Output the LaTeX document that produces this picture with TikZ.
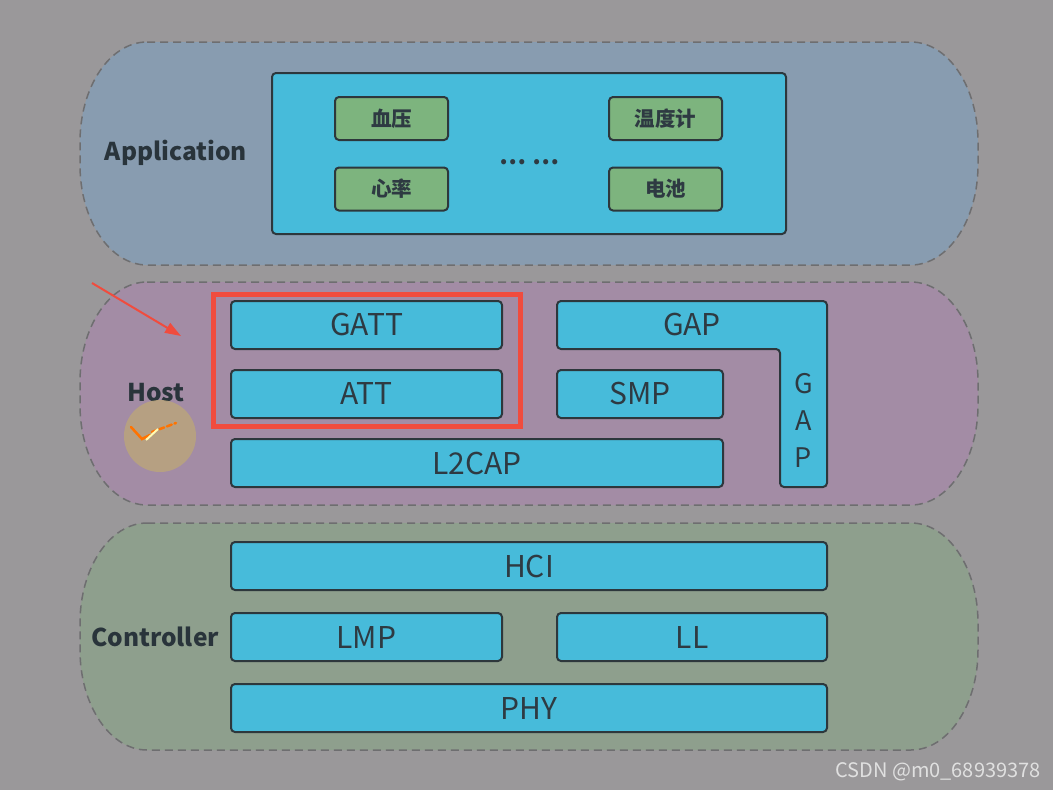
\documentclass[tikz,border=0pt]{standalone}
\usepackage{fontspec}
\setmainfont{Noto Sans CJK SC}
\usetikzlibrary{arrows.meta}
\definecolor{bgray}{HTML}{9A989A}
\definecolor{appfill}{HTML}{889CB0}
\definecolor{hostfill}{HTML}{A38CA5}
\definecolor{ctrlfill}{HTML}{8E9F8D}
\definecolor{pillline}{HTML}{6E6E70}
\definecolor{cyanbox}{HTML}{47BBDA}
\definecolor{greenbox}{HTML}{7DB47E}
\definecolor{boxline}{HTML}{2D373C}
\definecolor{labeltext}{HTML}{2E3A42}
\definecolor{redmark}{HTML}{F04C3E}
\definecolor{pointer}{HTML}{BBA67A}
% dashed layer outline with elliptic ends: fill, x1, y1, x2, y2
\newcommand{\layerpill}[5]{%
  \draw[pill,fill=#1] (#2+67,#3) -- (#4-67,#3)
    arc[start angle=-90,end angle=0,x radius=67,y radius=100] -- (#4,#5-100)
    arc[start angle=0,end angle=90,x radius=67,y radius=100] -- (#2+67,#5)
    arc[start angle=90,end angle=180,x radius=67,y radius=100] -- (#2,#3+100)
    arc[start angle=180,end angle=270,x radius=67,y radius=100] -- cycle;}
\begin{document}
\begin{tikzpicture}[x=1pt,y=-1pt,
  pill/.style={draw=pillline,dash pattern=on 8pt off 5pt,line width=1.5pt},
  layer/.style={draw=boxline,fill=cyanbox,line width=2pt,rounded corners=4pt,text=labeltext,inner sep=0pt,font=\fontsize{30}{32}\selectfont},
  app/.style={draw=boxline,fill=greenbox,line width=2pt,rounded corners=4pt,text=labeltext,inner sep=0pt,minimum width=113pt,minimum height=43pt,font=\fontsize{20.5}{22}\selectfont\bfseries},
  group/.style={text=labeltext!90!black,font=\fontsize{24.5}{26}\selectfont\bfseries}]
  \useasboundingbox[fill=bgray] (0,0) rectangle (1053,790);
  % the three layers
  \layerpill{appfill}{80}{42}{978}{265}
  \layerpill{hostfill}{80}{282}{978}{505}
  \layerpill{ctrlfill}{80}{523}{978}{750}
  \node[group] (application) at (176,153) {Application};
  \node[group] (host) at (156,393) {Host};
  \node[group] (controller) at (155,637) {Controller};
  % application
  \node[layer,minimum width=514pt,minimum height=161pt] (profiles) at (529,153.5) {};
  \node[app] (bp) at (391.5,118.5) {血压};
  \node[app] (hr) at (391.5,189) {心率};
  \node[app] (thermo) at (665.5,118.5) {温度计};
  \node[app] (battery) at (665.5,189) {电池};
  \node[text=labeltext,font=\fontsize{24}{26}\selectfont\bfseries] (more) at (529,162) {…\hspace{6pt}…};
  % host
  \node[layer,minimum width=271pt,minimum height=48pt] (gatt) at (366.5,325) {GATT};
  \node[layer,minimum width=271pt,minimum height=48pt] (att) at (366.5,394) {ATT};
  \node[layer,minimum width=166pt,minimum height=48pt] (smp) at (640,394) {SMP};
  \node[layer,minimum width=492pt,minimum height=48pt] (l2cap) at (477,463) {L2CAP};
  \draw[draw=boxline,fill=cyanbox,line width=2pt,rounded corners=4pt]
    (557,301) -- (827,301) -- (827,487) -- (780,487) -- (780,349) -- (557,349) -- cycle;
  \node[text=labeltext,font=\fontsize{30}{32}\selectfont] (gap) at (692,325) {GAP};
  \node[text=labeltext,font=\fontsize{27}{37}\selectfont,align=center] (gapv) at (803.5,420) {G\\A\\P};
  % highlight
  \draw[redmark,line width=5pt] (213,294) rectangle (520,426);
  \coordinate (tail) at (92,283);
  \coordinate (tip) at (181,336);
  \draw[redmark,line width=2pt,-{Triangle[length=16pt,width=11pt]}] (tail) -- (tip);
  \fill[pointer,opacity=0.8] (160,436) circle (36);
  \draw[orange!90!red,line width=2.5pt,line cap=round] (131,427) -- (142,439) -- (150,435);
  \draw[orange!90!red,line width=2.5pt,dash pattern=on 5pt off 3pt,line cap=round] (152,432) -- (176,423);
  \draw[yellow!30,line width=2pt] (146,440) -- (158,429);
  % controller
  \node[layer,minimum width=596pt,minimum height=48pt] (hci) at (529,566) {HCI};
  \node[layer,minimum width=271pt,minimum height=48pt] (lmp) at (366.5,637) {LMP};
  \node[layer,minimum width=270pt,minimum height=48pt] (ll) at (692,637) {LL};
  \node[layer,minimum width=596pt,minimum height=48pt] (phy) at (529,708) {PHY};
  \node[text=white!88!black,font=\fontsize{20}{22}\selectfont] (mark) at (938,772) {CSDN @m0\_68939378};
\end{tikzpicture}
\end{document}
